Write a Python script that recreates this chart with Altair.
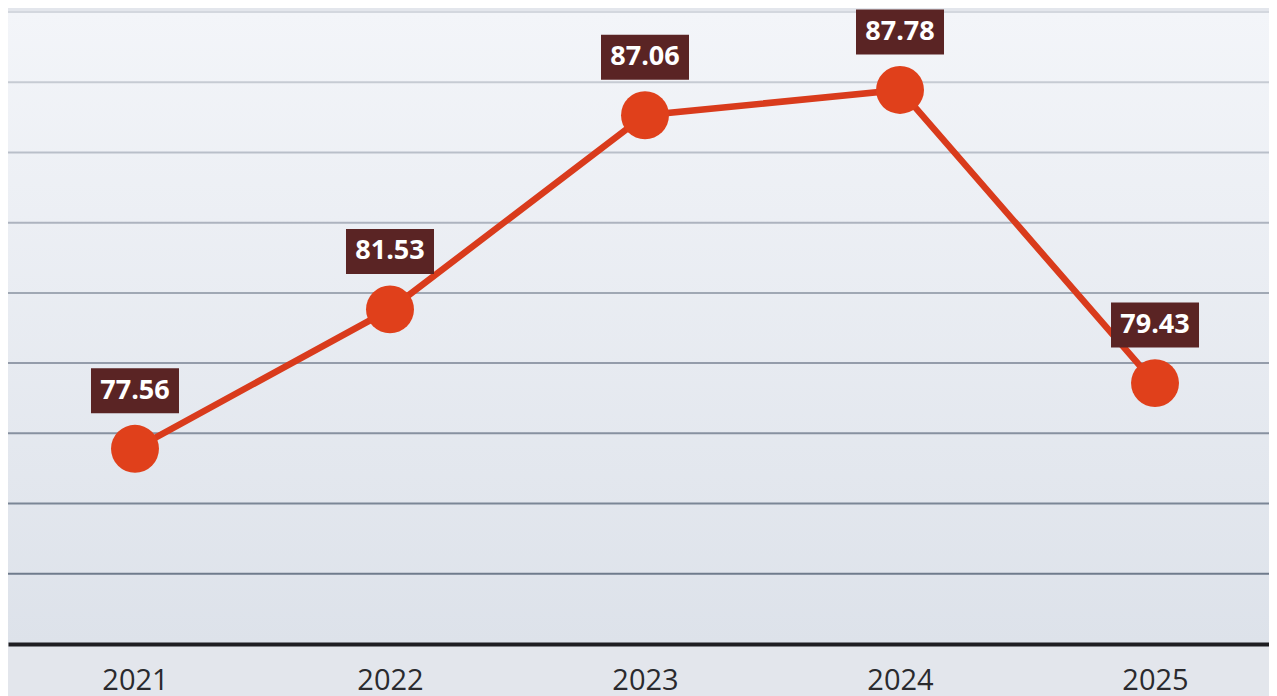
import altair as alt
import pandas as pd

# ---- data ----
years = [2021, 2022, 2023, 2024, 2025]
values = [77.56, 81.53, 87.06, 87.78, 79.43]
grid_values = [74, 76, 78, 80, 82, 84, 86, 88, 90]

df = pd.DataFrame({"year": years, "value": values})
grid_df = pd.DataFrame({"g": grid_values})

W, H = 1261, 632

xscale = alt.Scale(domain=[2020.502, 2025.447], nice=False, zero=False)
yscale = alt.Scale(domain=[72, 90], nice=False, zero=False)

x_axis = alt.Axis(
    values=years, format="d", title=None, grid=False, ticks=False, tickSize=0,
    domainColor="#1e1e22", domainWidth=4, zindex=1,
    labelFont="Open Sans", labelFontSize=29, labelColor="#2a2a2e",
    labelPadding=36, labelBaseline="middle", labelFlush=False,
)

bg = alt.Chart(alt.Data(values=[{"a": 1}])).mark_rect(
    color=alt.LinearGradient(
        gradient="linear", x1=0, y1=0, x2=0, y2=1,
        stops=[alt.GradientStop(offset=0, color="#f3f5f9"),
               alt.GradientStop(offset=1, color="#dde2ea")],
    )
).encode(x=alt.value(0), x2=alt.value(W), y=alt.value(0), y2=alt.value(H))

grid = alt.Chart(grid_df).mark_rule(strokeWidth=2).encode(
    y=alt.Y("g:Q", scale=yscale, axis=None),
    x=alt.value(0),
    x2=alt.value(W),
    color=alt.Color("g:Q", scale=alt.Scale(domain=[74, 90], range=["#6f7b8c", "#d3d7de"]), legend=None),
)

base = alt.Chart(df).encode(
    x=alt.X("year:Q", scale=xscale, axis=x_axis),
    y=alt.Y("value:Q", scale=yscale, axis=None),
)

line = base.mark_line(color="#d93b1c", strokeWidth=6.5)
points = base.mark_circle(size=2300, color="#e0401b", opacity=1)
boxes = base.mark_rect(width=88, height=45, yOffset=-58, color="#5a2424")
labels = base.mark_text(
    font="Open Sans", fontWeight="bold", fontSize=27, color="white",
    yOffset=-58, baseline="middle", align="center",
).encode(text=alt.Text("value:Q", format=".2f"))

chart = alt.layer(bg, grid, line, points, boxes, labels).properties(
    width=W, height=H,
    background="#e3e6ec",
    padding={"left": 0, "right": 0, "top": 4, "bottom": 64},
    autosize=alt.AutoSizeParams(type="none"),
).configure_view(stroke=None)

chart.save("out.html", embed_options={"renderer": "svg", "actions": False})
